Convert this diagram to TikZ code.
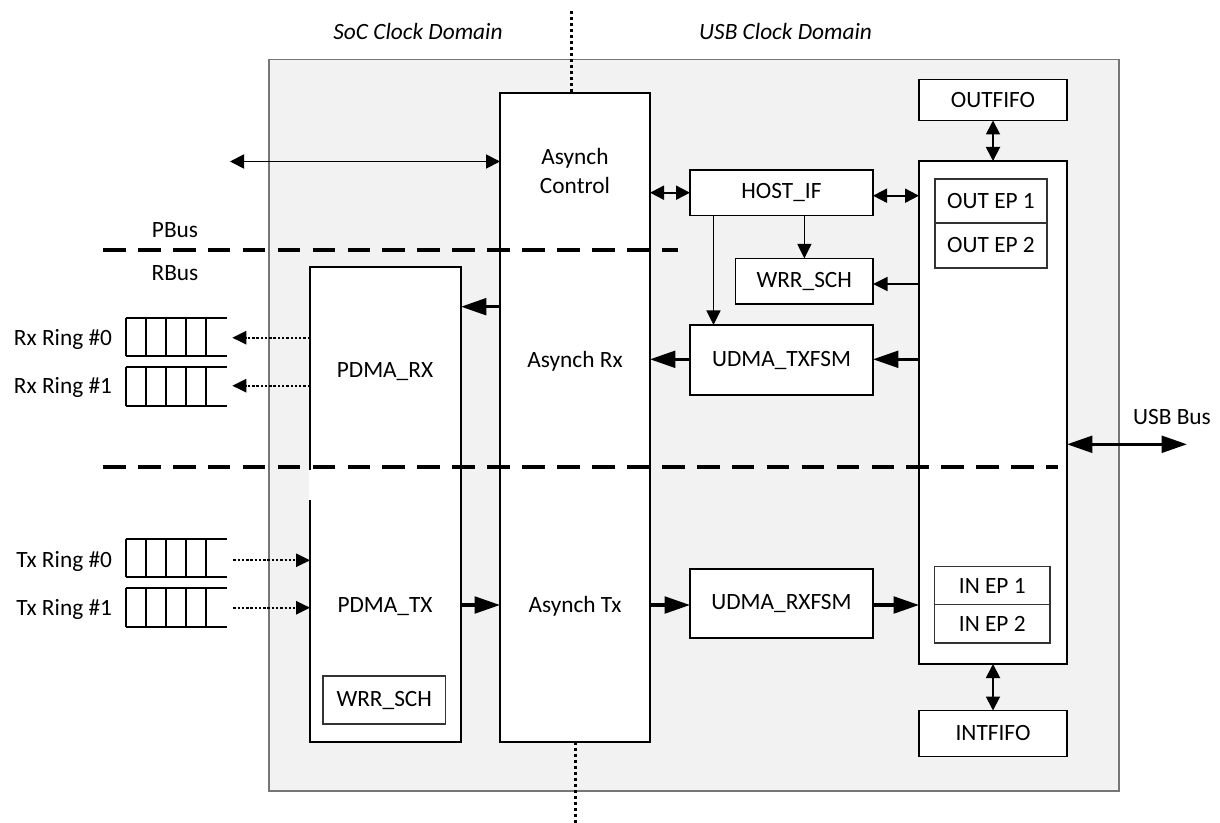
\documentclass[tikz,border=0pt]{standalone}
\usepackage{fontspec}
\setmainfont{Carlito}
\usetikzlibrary{arrows.meta}
\definecolor{panelfill}{HTML}{F2F2F2}
\definecolor{paneledge}{HTML}{767676}
\tikzset{
  txt/.style={font=\fontsize{17.5}{21.2}\selectfont},
  box/.style={draw=black, line width=1.4pt, fill=white, inner sep=0pt, outer sep=0pt, align=center, txt},
  subbox/.style={box, draw=black!80, line width=0.8pt},
  panelbox/.style={box, draw=paneledge, fill=panelfill, line width=1.1pt},
  lbl/.style={txt, inner sep=0pt, outer sep=0pt},
  thinarrow/.style={line width=1.3pt, -{Triangle[length=11pt,width=10.5pt]}},
  bidi/.style={line width=1.4pt, {Triangle[length=10.5pt,width=10.5pt]}-{Triangle[length=10.5pt,width=10.5pt]}},
  thickarrow/.style={line width=2.3pt, -{Triangle[length=19pt,width=12.5pt]}},
  thickbidi/.style={line width=2.3pt, {Triangle[length=19pt,width=12.5pt]}-{Triangle[length=19pt,width=12.5pt]}},
  dotarrow/.style={line width=1.4pt, dash pattern=on 1.8pt off 1.4pt, -{Triangle[length=10.5pt,width=10pt]}},
  busline/.style={line width=2.4pt, dash pattern=on 17pt off 9.2pt},
  domline/.style={line width=2pt, dash pattern=on 2.5pt off 2pt},
  ringline/.style={line width=1.6pt, draw=black},
}
\newcommand\bx[7][box]{\node[#1, minimum width={(#5-#3)*0.75pt}, minimum height={(#6-#4)*0.75pt}] (#2) at ({(#3+#5)/2},{(#4+#6)/2}) {#7};}
\newcommand\ringq[2]{\draw[ringline] (126,#1) -- (226.7,#1) (126,#2) -- (226.7,#2) (126,#1) -- (126,#2) (146,#1) -- (146,#2) (166,#1) -- (166,#2) (186.3,#1) -- (186.3,#2) (206.3,#1) -- (206.3,#2);}
\begin{document}
\begin{tikzpicture}[x=0.75pt,y=-0.75pt]
\useasboundingbox (0,0) rectangle (1220,823);
% panel and blocks
\bx[panelbox]{panel}{269}{59.5}{1119}{791}{}
\bx{asyn}{500}{93}{650}{742}{}
\bx{pdma}{310}{267}{461}{742}{}
\bx[subbox]{wrra}{323}{676}{445.5}{724}{WRR\_SCH}
\bx{hostif}{690}{170}{873}{215.5}{HOST\_IF}
\bx{wrrb}{735.5}{258.5}{873}{304}{WRR\_SCH}
\bx{udtx}{690}{325}{873}{395}{UDMA\_TXFSM}
\bx{udrx}{690}{569}{873}{638}{UDMA\_RXFSM}
\bx{outfifo}{919}{79.5}{1067}{120.5}{OUTFIFO}
\bx{ep}{919}{161}{1067}{664}{}
\bx[subbox]{oep1}{935}{179}{1047}{223}{OUT EP 1}
\bx[subbox]{oep2}{935}{223}{1047}{268}{OUT EP 2}
\bx[subbox]{iep1}{934.5}{566.5}{1050}{604.5}{IN EP 1}
\bx[subbox]{iep2}{934.5}{604.5}{1050}{643}{IN EP 2}
\bx{intfifo}{919}{710.5}{1067}{756.5}{INTFIFO}
% texts inside tall blocks
\node[lbl, align=center] (tac) at (575,171) {Asynch\\Control};
\node[lbl, anchor=base] (tarx) at (575,367.5) {Asynch Rx};
\node[lbl, anchor=base] (tatx) at (575,612.5) {Asynch Tx};
\node[lbl, anchor=base] (tprx) at (385,377.5) {PDMA\_RX};
\node[lbl, anchor=base] (tptx) at (385,612.5) {PDMA\_TX};
% outside labels
\node[lbl, anchor=base, font=\fontsize{17.5}{21.2}\selectfont\itshape] (soc) at (418,39.2) {SoC Clock Domain};
\node[lbl, anchor=base, font=\fontsize{17.5}{21.2}\selectfont\itshape] (usbd) at (785.6,39.2) {USB Clock Domain};
\node[lbl, anchor=base] (pbus) at (175,237.5) {PBus};
\node[lbl, anchor=base] (rbus) at (175,280.5) {RBus};
\node[lbl, anchor=base east] (rx0) at (112,345.2) {Rx Ring \#0};
\node[lbl, anchor=base east] (rx1) at (112,393.2) {Rx Ring \#1};
\node[lbl, anchor=base east] (tx0) at (112,567.8) {Tx Ring \#0};
\node[lbl, anchor=base east] (tx1) at (112,615.2) {Tx Ring \#1};
\node[lbl, anchor=base] (usbl) at (1172,424.2) {USB Bus};
% ring queues
\ringq{317.7}{355.7}
\ringq{367}{405.7}
\ringq{539}{577.3}
\ringq{588.3}{627.3}
% helper coordinates
\coordinate (extl) at (230,161.5);
\coordinate (ya) at (0,192.7);
\coordinate (yb) at (0,195.7);
\coordinate (yc) at (0,284);
\coordinate (yd) at (0,359.3);
\coordinate (ye) at (0,306.7);
\coordinate (yf) at (0,605);
\coordinate (xh) at (804.4,0);
\coordinate (xi) at (713.5,0);
\coordinate (xj) at (993,0);
\coordinate (usbr) at (1187,444.3);
\coordinate (rxa) at (232.3,337.7);
\coordinate (rxb) at (232.3,385.7);
\coordinate (txa) at (233.3,560.3);
\coordinate (txb) at (233.3,607.7);
\coordinate (dt) at (571.5,11);
\coordinate (db) at (575.5,823);
\coordinate (pa) at (103,250);
\coordinate (pb) at (678,250);
\coordinate (qa) at (103,467);
\coordinate (qb) at (1058,467);
% connectors
\draw[bidi] (extl) -- (asyn.west |- extl);
\draw[bidi] (asyn.east |- ya) -- (hostif.west |- ya);
\draw[bidi] (hostif.east |- yb) -- (ep.west |- yb);
\draw[thinarrow] (hostif.south -| xh) -- (wrrb.north -| xh);
\draw[thinarrow] (hostif.south -| xi) -- (udtx.north -| xi);
\draw[thinarrow] (ep.west |- yc) -- (wrrb.east |- yc);
\draw[thickarrow] (ep.west |- yd) -- (udtx.east |- yd);
\draw[thickarrow] (udtx.west |- yd) -- (asyn.east |- yd);
\draw[thickarrow] (asyn.west |- ye) -- (pdma.east |- ye);
\draw[thickarrow] (pdma.east |- yf) -- (asyn.west |- yf);
\draw[thickarrow] (asyn.east |- yf) -- (udrx.west |- yf);
\draw[thickarrow] (udrx.east |- yf) -- (ep.west |- yf);
\draw[bidi] (outfifo.south -| xj) -- (ep.north -| xj);
\draw[bidi] (ep.south -| xj) -- (intfifo.north -| xj);
\draw[thickbidi] (ep.east |- usbr) -- (usbr);
\draw[dotarrow] (pdma.west |- rxa) -- (rxa);
\draw[dotarrow] (pdma.west |- rxb) -- (rxb);
\draw[dotarrow] (txa) -- (pdma.west |- txa);
\draw[dotarrow] (txb) -- (pdma.west |- txb);
% small break in PDMA left border
\fill[white] (308.8,470) rectangle (311.2,500);
% bus separators and clock domain boundary
\draw[busline] (pa) -- (pb);
\draw[busline] (qa) -- (qb);
\draw[domline] (dt) -- (asyn.north -| dt);
\draw[domline] (asyn.south -| db) -- (db);
\end{tikzpicture}
\end{document}
